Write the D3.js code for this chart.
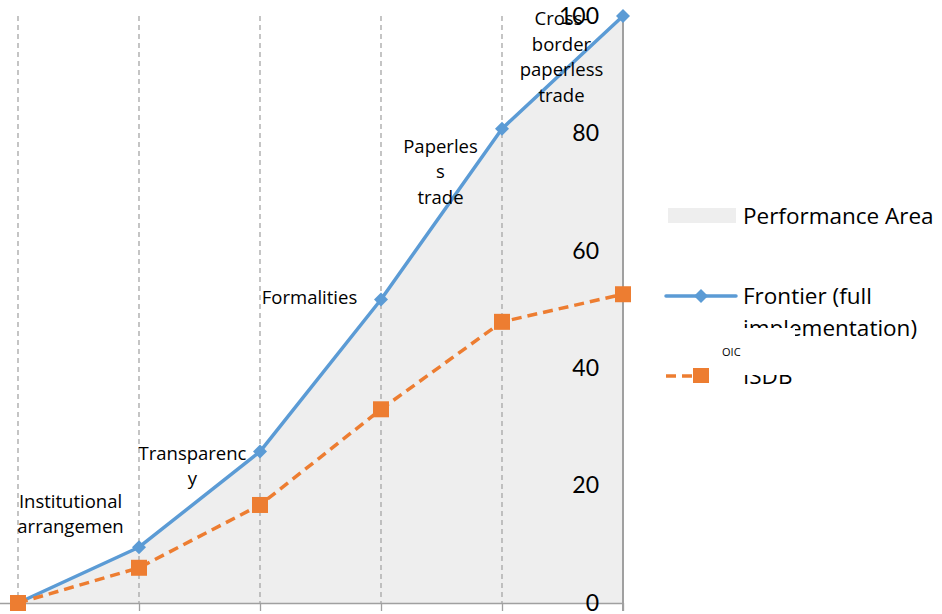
<!DOCTYPE html>
<html>
<head>
<meta charset="utf-8">
<script src="https://cdn.jsdelivr.net/npm/d3@7/dist/d3.min.js"></script>
<style>
  html, body { margin: 0; padding: 0; background: #ffffff; }
  svg { display: block; }
  text { font-family: "Open Sans", Lato, sans-serif; fill: #000; }
</style>
</head>
<body>
<svg id="chart" width="942" height="614"></svg>
<script>
// Stages of trade facilitation implementation
const stages = [
  "Institutional arrangemen",
  "Transparency",
  "Formalities",
  "Paperless trade",
  "Cross-border paperless trade",
  ""
];
// Wrapped label lines for each stage (as they appear on the chart)
const stageLines = [
  ["Institutional", "arrangemen"],
  ["Transparenc", "y"],
  ["Formalities"],
  ["Paperles", "s", "trade"],
  ["Cross-", "border", "paperless", "trade"]
];
// Vertical level (in chart units) at which each stage label block is centred
const stageLabelLevel = [15.2, 23.3, 52, 73.5, 93];

const frontier = [0, 9.5, 25.8, 51.7, 80.8, 100];
const oic = [0, 6, 16.7, 33, 47.9, 52.6];
const yTicks = [0, 20, 40, 60, 80, 100];

const blue = "#5b9bd5";
const orange = "#ed7d31";
const areaFill = "#eeeeee";
const gridGrey = "#a6a6a6";

const svg = d3.select("#chart");
const idx = d3.range(frontier.length);

const x = d3.scaleLinear().domain([0, frontier.length - 1]).range([18, 623]);
const y = d3.scaleLinear().domain([0, 100]).range([603, 16]);

// Performance area under the frontier
svg.append("path")
  .datum(idx)
  .attr("fill", areaFill)
  .attr("d", d3.area().x(i => x(i)).y0(y(0)).y1(i => y(frontier[i])));

// Dashed vertical gridlines at each stage
svg.append("g").selectAll("line")
  .data(idx.slice(0, -1))
  .join("line")
  .attr("x1", i => x(i)).attr("x2", i => x(i))
  .attr("y1", y(100)).attr("y2", y(0))
  .attr("stroke", gridGrey)
  .attr("stroke-width", 1.3)
  .attr("stroke-dasharray", "5,4");

// Category (bottom) axis with tick marks only
const xAxis = svg.append("g")
  .attr("transform", `translate(0,${y(0)})`)
  .call(d3.axisBottom(x).tickValues(idx).tickFormat("").tickSize(8).tickSizeOuter(0));
xAxis.select(".domain").attr("d", `M0,0.5H${x(frontier.length - 1)}`).attr("stroke", "#a0a0a0").attr("stroke-width", 1.5);
xAxis.selectAll(".tick line").attr("stroke", "#a0a0a0").attr("stroke-width", 1.3);

// Value axis drawn at the right-hand end of the plot, labels to its left
const yAxis = svg.append("g")
  .attr("transform", `translate(${x(frontier.length - 1)},0)`)
  .call(d3.axisLeft(y).tickValues(yTicks).tickSize(0).tickPadding(24));
yAxis.select(".domain").attr("d", `M0,${y(100)}V${y(0) + 8}`).attr("stroke", "#a0a0a0").attr("stroke-width", 2);
yAxis.selectAll(".tick text")
  .style("font-family", "Lato, 'Open Sans', sans-serif")
  .style("font-size", "23px")
  .attr("fill", "#000");

// Frontier line
svg.append("path")
  .datum(idx)
  .attr("fill", "none")
  .attr("stroke", blue)
  .attr("stroke-width", 3.5)
  .attr("stroke-linejoin", "round")
  .attr("d", d3.line().x(i => x(i)).y(i => y(frontier[i])));

// OIC line
svg.append("path")
  .datum(idx)
  .attr("fill", "none")
  .attr("stroke", orange)
  .attr("stroke-width", 3.5)
  .attr("stroke-dasharray", "10,6")
  .attr("d", d3.line().x(i => x(i)).y(i => y(oic[i])));

// Diamond markers on the frontier
svg.append("g").selectAll("path")
  .data(idx)
  .join("path")
  .attr("d", d3.symbol().type(d3.symbolSquare).size(98))
  .attr("transform", i => `translate(${x(i)},${y(frontier[i])}) rotate(45)`)
  .attr("fill", blue);

// Square markers on the OIC series
svg.append("g").selectAll("rect")
  .data(idx)
  .join("rect")
  .attr("x", i => x(i) - 8).attr("y", i => y(oic[i]) - 8)
  .attr("width", 16).attr("height", 16)
  .attr("fill", orange);

// Stage labels, centred between neighbouring stages
const labelShift = [-8, -7, -11, -1, -1];
const labelG = svg.append("g");
stageLines.forEach((lines, i) => {
  const cx = (x(i) + x(i + 1)) / 2 + labelShift[i];
  const cy = y(stageLabelLevel[i]);
  const lh = 25.5;
  const t = labelG.append("text")
    .attr("text-anchor", "middle")
    .style("font-size", "18.5px");
  lines.forEach((ln, k) => {
    t.append("tspan")
      .attr("x", cx)
      .attr("y", cy + (k - (lines.length - 1) / 2) * lh)
      .attr("dy", "0.35em")
      .text(ln);
  });
});

// Legend
const lg = svg.append("g").style("font-size", "22.5px");
lg.append("rect").attr("x", 668).attr("y", 208).attr("width", 68).attr("height", 15).attr("fill", areaFill);
lg.append("text").attr("x", 743).attr("y", 216).attr("dy", "0.35em").text("Performance Area");

lg.append("line").attr("x1", 666).attr("x2", 736).attr("y1", 296).attr("y2", 296)
  .attr("stroke", blue).attr("stroke-width", 3.5).attr("stroke-linecap", "round");
lg.append("path").attr("d", d3.symbol().type(d3.symbolSquare).size(98))
  .attr("transform", "translate(701,296) rotate(45)").attr("fill", blue);
const ft = lg.append("text");
ft.append("tspan").attr("x", 743).attr("y", 296).attr("dy", "0.35em").text("Frontier (full");
ft.append("tspan").attr("x", 743).attr("y", 328).attr("dy", "0.35em").text("implementation)");

lg.append("line").attr("x1", 666).attr("x2", 703).attr("y1", 376).attr("y2", 376)
  .attr("stroke", orange).attr("stroke-width", 3.5).attr("stroke-dasharray", "10,6");
lg.append("rect").attr("x", 693).attr("y", 368).attr("width", 16).attr("height", 15).attr("fill", orange);
lg.append("text").attr("x", 743).attr("y", 376).attr("dy", "0.35em").text("ISDB");

// Box relabelling the second series
lg.append("rect").attr("x", 711).attr("y", 328).attr("width", 84).attr("height", 47).attr("fill", "#ffffff");
lg.append("text").attr("x", 722).attr("y", 352).attr("dy", "0.35em").style("font-size", "11px").text("OIC");
</script>
</body>
</html>
